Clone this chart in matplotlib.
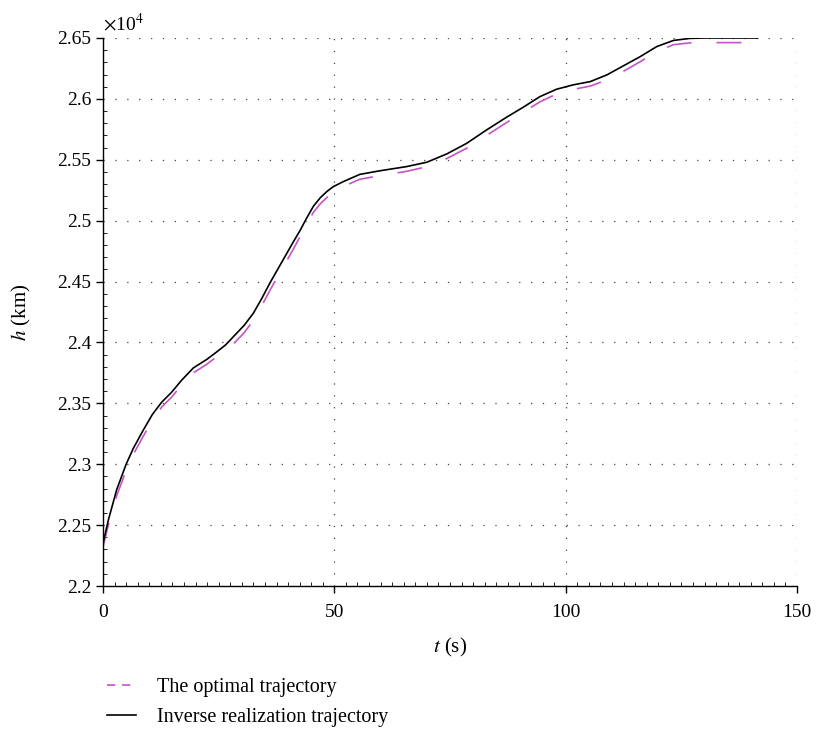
import matplotlib
matplotlib.use("Agg")
import matplotlib.pyplot as plt
from matplotlib.ticker import MultipleLocator, FuncFormatter
from matplotlib.lines import Line2D

plt.rcParams['font.family'] = ['Liberation Serif', 'DejaVu Serif']
plt.rcParams['mathtext.fontset'] = 'stix'

# time (s)
t = [0, 1.15, 2.95, 5.0, 6.55, 8.7, 10.7, 12.7, 14.8, 17.0,
     19.5, 22.4, 24.5, 26.5, 28.5, 30.5, 32.5, 34.3, 36.1, 37.9,
     39.7, 41.2, 42.6, 44, 45.5, 47, 48.4, 49.8, 51.9, 55.5,
     59.9, 65.6, 70.0, 74.3, 78.6, 82.9, 87.2, 90.8, 94.4, 98.0,
     101.6, 105.3, 108.9, 112.4, 116.1, 119.7, 123.3, 126.9, 130, 141.5]
# height (x1e4 km), inverse realization trajectory
h_inverse = [2.235, 2.254, 2.279, 2.300, 2.313, 2.328, 2.341, 2.351, 2.359, 2.369,
             2.379, 2.386, 2.392, 2.398, 2.406, 2.414, 2.424, 2.436, 2.449, 2.461,
             2.473, 2.483, 2.492, 2.502, 2.512, 2.519, 2.524, 2.528, 2.532, 2.538,
             2.541, 2.5444, 2.548, 2.5548, 2.5635, 2.5745, 2.5849, 2.5931, 2.6018, 2.6079,
             2.6115, 2.6142, 2.6197, 2.627, 2.6347, 2.643, 2.648, 2.6497, 2.650, 2.650]
# height (x1e4 km), optimal trajectory
h_optimal = [2.232, 2.250, 2.274, 2.295, 2.308, 2.323, 2.336, 2.347, 2.355, 2.365,
             2.375, 2.382, 2.388, 2.393, 2.400, 2.408, 2.418, 2.430, 2.443, 2.455,
             2.467, 2.477, 2.487, 2.497, 2.507, 2.514, 2.519, 2.524, 2.528, 2.534,
             2.537, 2.5405, 2.5443, 2.5510, 2.5595, 2.5700, 2.5805, 2.5890, 2.5975, 2.6040,
             2.6078, 2.6105, 2.6155, 2.6225, 2.6305, 2.6390, 2.6445, 2.6460, 2.6462, 2.6462]

h_inverse = [v * 1e4 for v in h_inverse]
h_optimal = [v * 1e4 for v in h_optimal]

fig = plt.figure(figsize=(8.2, 7.35), dpi=100)
ax = fig.add_axes([0.1256, 0.2027, 0.8464, 0.7456])

magenta = '#c455c8'
ax.plot(t, h_optimal, color=magenta, lw=1.2, dashes=(15, 15))
ax.plot(t, h_inverse, color='black', lw=1.2)

ax.set_xlim(0, 150)
ax.set_ylim(22000, 26500)
ax.xaxis.set_major_locator(MultipleLocator(50))
ax.xaxis.set_minor_locator(MultipleLocator(2.5))
ax.yaxis.set_major_locator(MultipleLocator(500))
ax.yaxis.set_minor_locator(MultipleLocator(100))
ax.yaxis.set_major_formatter(FuncFormatter(lambda v, p: '%g' % round(v / 1e4, 3)))

ax.tick_params(which='major', direction='out', length=5, width=1, labelsize=14, colors='black')
ax.tick_params(which='minor', direction='in', length=3, width=0.6)
ax.tick_params(axis='x', pad=8)

for s in ['top', 'right']:
    ax.spines[s].set_visible(False)
ax.spines['left'].set_linewidth(1)
ax.spines['bottom'].set_linewidth(1)

ax.grid(True, which='major', color='#444444', lw=0.9, linestyle=(0, (1, 8.5)))
ax.set_axisbelow(True)

ax.text(0, 1.006, r'$\times$10$^4$', transform=ax.transAxes, fontsize=14, va='bottom', ha='left')
ax.set_xlabel(r'$t$ (s)', fontsize=15, labelpad=11)
ax.set_ylabel(r'$h$ (km)', fontsize=15, labelpad=17)

handles = [Line2D([], [], color=magenta, lw=1.2, dashes=(5, 4)),
           Line2D([], [], color='black', lw=1.2)]
fig.legend(handles, ['The optimal trajectory', 'Inverse realization trajectory'],
           loc='upper left', bbox_to_anchor=(0.121, 0.088), frameon=False,
           fontsize=14.5, handlelength=1.45, handletextpad=1.0,
           labelspacing=0.5, borderaxespad=0)

fig.savefig('out.png', dpi=100)
